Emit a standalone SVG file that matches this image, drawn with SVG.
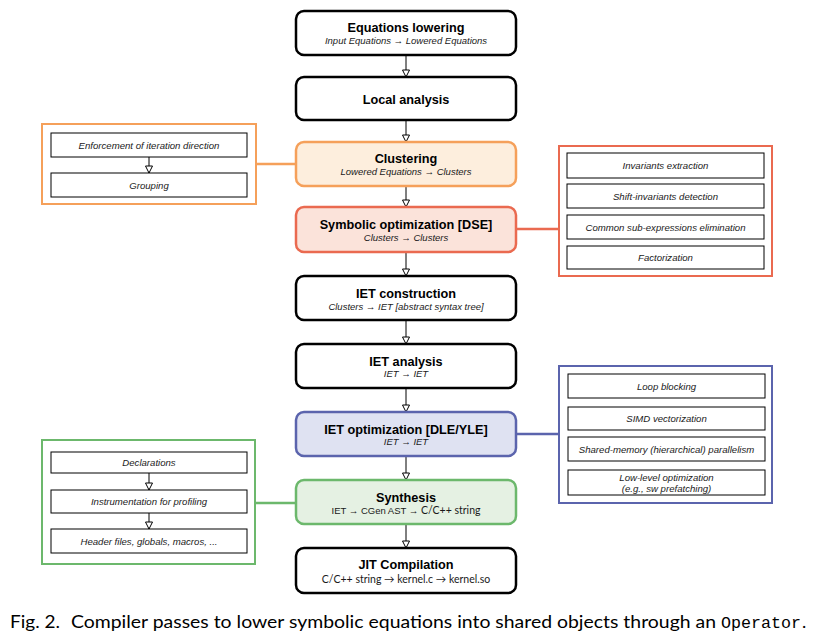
<svg xmlns="http://www.w3.org/2000/svg" width="813" height="640" viewBox="0 0 813 640">
<style>
.main{fill:#fff;stroke:#000;stroke-width:2.5}
.t{font-family:"Liberation Sans",Arial,sans-serif;font-weight:bold;font-size:12.7px;text-anchor:middle;fill:#000}
.s{font-family:"Liberation Sans",Arial,sans-serif;font-style:italic;font-size:9.5px;text-anchor:middle;fill:#1a1a1a}
.sr{font-family:"Liberation Sans",Arial,sans-serif;font-size:9.5px;text-anchor:middle;fill:#1a1a1a}
.sb{font-family:Lato,"Open Sans",sans-serif;font-size:10.5px}
.ib{fill:#fff;stroke:#000;stroke-width:1}
.it{font-family:"Liberation Sans",Arial,sans-serif;font-style:italic;font-size:9.6px;text-anchor:middle;fill:#1a1a1a}
.arr{stroke:#000;stroke-width:1;fill:none;marker-end:url(#ah)}
.cap{font-family:Lato,"Open Sans",sans-serif;font-size:18px;fill:#000}
</style>
<defs>
<marker id="ah" markerUnits="userSpaceOnUse" markerWidth="9" markerHeight="9" refX="7" refY="3.5" orient="auto" viewBox="-1 -1 9 9">
<path d="M0,0 L7,3.5 L0,7 Z" fill="#fff" stroke="#000" stroke-width="1"/>
</marker>
</defs>

<g id="connectors">
<line class="arr" x1="406" y1="55" x2="406" y2="77"/>
<line class="arr" x1="406" y1="120" x2="406" y2="142"/>
<line class="arr" x1="406" y1="186" x2="406" y2="207"/>
<line class="arr" x1="406" y1="252" x2="406" y2="276"/>
<line class="arr" x1="406" y1="320" x2="406" y2="344"/>
<line class="arr" x1="406" y1="388" x2="406" y2="412"/>
<line class="arr" x1="406" y1="456" x2="406" y2="480"/>
<line class="arr" x1="406" y1="524" x2="406" y2="548"/>
<line x1="256" y1="164" x2="296" y2="164" stroke="#f5a05a" stroke-width="2.5"/>
<line x1="516" y1="229" x2="559" y2="229" stroke="#ea6a50" stroke-width="2.5"/>
<line x1="516" y1="434" x2="559" y2="434" stroke="#5b64ad" stroke-width="2.5"/>
<line x1="256" y1="503" x2="296" y2="503" stroke="#6cb86c" stroke-width="2.5"/>
</g>

<g id="n1">
<rect class="main" x="296" y="11" width="220" height="44" rx="8"/>
<text class="t" x="406" y="32">Equations lowering</text>
<text class="s" x="406" y="43.5">Input Equations → Lowered Equations</text>
</g>
<g id="n2">
<rect class="main" x="296" y="77" width="220" height="43" rx="8"/>
<text class="t" x="406" y="104">Local analysis</text>
</g>
<g id="n3">
<rect x="296" y="142" width="220" height="44" rx="8" fill="#fdeedd" stroke="#f5a05a" stroke-width="2.5"/>
<text class="t" x="406" y="163">Clustering</text>
<text class="s" x="406" y="175">Lowered Equations → Clusters</text>
</g>
<g id="n4">
<rect x="296" y="207" width="220" height="45" rx="8" fill="#fbe3da" stroke="#ea6a50" stroke-width="2.5"/>
<text class="t" x="406" y="229">Symbolic optimization [DSE]</text>
<text class="s" x="406" y="241">Clusters → Clusters</text>
</g>
<g id="n5">
<rect class="main" x="296" y="276" width="220" height="44" rx="8"/>
<text class="t" x="406" y="298">IET construction</text>
<text class="s" x="406" y="309.5">Clusters → IET [abstract syntax tree]</text>
</g>
<g id="n6">
<rect class="main" x="296" y="344" width="220" height="44" rx="8"/>
<text class="t" x="406" y="366">IET analysis</text>
<text class="s" x="406" y="377">IET → IET</text>
</g>
<g id="n7">
<rect x="296" y="412" width="220" height="44" rx="8" fill="#dfe2f2" stroke="#5b64ad" stroke-width="2.5"/>
<text class="t" x="406" y="434">IET optimization [DLE/YLE]</text>
<text class="s" x="406" y="445">IET → IET</text>
</g>
<g id="n8">
<rect x="296" y="480" width="220" height="44" rx="8" fill="#e5f1e3" stroke="#6cb86c" stroke-width="2.5"/>
<text class="t" x="406" y="501.5">Synthesis</text>
<text class="sr" x="406" y="514">IET → CGen AST → <tspan class="sb">C/C++ string</tspan></text>
</g>
<g id="n9">
<rect class="main" x="296" y="548" width="220" height="45" rx="8"/>
<text class="t" x="406" y="569">JIT Compilation</text>
<text class="sr sb" x="406" y="582.5" text-anchor="middle">C/C++ string → kernel.c → kernel.so</text>
</g>

<g id="g-clustering">
<rect x="42" y="124" width="214" height="80" fill="#fff" stroke="#f5a05a" stroke-width="2"/>
<rect class="ib" x="51" y="133" width="196" height="24"/>
<text class="it" x="149" y="148.5">Enforcement of iteration direction</text>
<line class="arr" x1="149" y1="157" x2="149" y2="173"/>
<rect class="ib" x="51" y="173" width="196" height="24"/>
<text class="it" x="149" y="188.5">Grouping</text>
</g>

<g id="g-dse">
<rect x="559" y="146" width="213" height="130" fill="#fff" stroke="#ea6a50" stroke-width="2"/>
<rect class="ib" x="567" y="153" width="197" height="25"/>
<text class="it" x="665.5" y="169">Invariants extraction</text>
<rect class="ib" x="567" y="184" width="197" height="24"/>
<text class="it" x="665.5" y="199.5">Shift-invariants detection</text>
<rect class="ib" x="567" y="215" width="197" height="24"/>
<text class="it" x="665.5" y="230.5">Common sub-expressions elimination</text>
<rect class="ib" x="567" y="246" width="197" height="23"/>
<text class="it" x="665.5" y="261">Factorization</text>
</g>

<g id="g-dle">
<rect x="559" y="366" width="213" height="137" fill="#fff" stroke="#5b64ad" stroke-width="2"/>
<rect class="ib" x="568" y="374" width="197" height="24"/>
<text class="it" x="666.5" y="389.5">Loop blocking</text>
<rect class="ib" x="568" y="407" width="197" height="23"/>
<text class="it" x="666.5" y="422">SIMD vectorization</text>
<rect class="ib" x="568" y="437" width="197" height="24"/>
<text class="it" x="666.5" y="452.5">Shared-memory (hierarchical) parallelism</text>
<rect class="ib" x="568" y="470" width="197" height="25"/>
<text class="it" x="666.5" y="480.5">Low-level optimization</text>
<text class="it" x="666.5" y="491.5">(e.g., sw prefatching)</text>
</g>

<g id="g-synthesis">
<rect x="42" y="440" width="213" height="124" fill="#fff" stroke="#6cb86c" stroke-width="2"/>
<rect class="ib" x="51" y="452" width="196" height="21"/>
<text class="it" x="149" y="466">Declarations</text>
<line class="arr" x1="149" y1="473" x2="149" y2="490"/>
<rect class="ib" x="51" y="490" width="196" height="23"/>
<text class="it" x="149" y="505">Instrumentation for profiling</text>
<line class="arr" x1="149" y1="513" x2="149" y2="529"/>
<rect class="ib" x="51" y="529" width="196" height="24"/>
<text class="it" x="149" y="544.5">Header files, globals, macros, ...</text>
</g>

<g id="caption">
<text class="cap" x="10" y="628" textLength="50" lengthAdjust="spacingAndGlyphs">Fig. 2.</text>
<text class="cap" x="71" y="628" textLength="645" lengthAdjust="spacingAndGlyphs">Compiler passes to lower symbolic equations into shared objects through an</text>
<text x="721" y="628" font-family="'Liberation Mono','DejaVu Sans Mono',monospace" font-size="16.5" textLength="80" lengthAdjust="spacingAndGlyphs">Operator</text>
<text class="cap" x="802" y="628">.</text>
</g>
</svg>
